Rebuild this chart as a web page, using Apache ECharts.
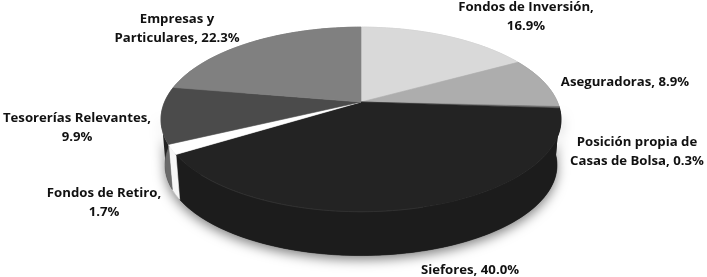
<!DOCTYPE html>
<html><head><meta charset="utf-8">
<style>html,body{margin:0;padding:0;background:#fff}#c{width:707px;height:277px}</style>
<script src="https://cdn.jsdelivr.net/npm/echarts@6/dist/echarts.min.js"></script>
</head><body><div id="c"></div>
<script>
const categories = ["Fondos de Inversión","Aseguradoras","Posición propia de Casas de Bolsa","Siefores","Fondos de Retiro","Tesorerías Relevantes","Empresas y Particulares"];
const shares = [16.9, 8.9, 0.3, 40.0, 1.7, 9.9, 22.3];
const labelTexts = ["Fondos de Inversión,\n16.9%","Aseguradoras, 8.9%","Posición propia de\nCasas de Bolsa, 0.3%","Siefores, 40.0%","Fondos de Retiro,\n1.7%","Tesorerías Relevantes,\n9.9%","Empresas y\nParticulares, 22.3%"];
const topColors = ["#d9d9d9","#adadad","#6e6e6e","#232323","#ffffff","#4b4b4b","#808080"];
const wallColors = ["#c4c4c4","#8f8f8f","#222222","#1c1c1c","#f6f6f6","#6a6a6a","#707070"];
const labelCentres = [[526,16.5],[625,82],[637,152],[470,270],[104,202.5],[77,127.5],[177,28.5]];

// perspective of the pie disc
const cx=361, cy=102, Rx=196.4, Ry=89, persp=0.189, drop=46, shrink=0.98;
function rim(deg, bottom){
  const t=deg*Math.PI/180, w=1+persp*Math.cos(t), s=bottom?shrink:1, d=bottom?drop:0;
  return [cx+s*Rx*Math.sin(t)/w, cy+d-s*Ry*Math.cos(t)/w];
}
function arc(a,b,bottom){
  const n=Math.max(2,Math.ceil(Math.abs(b-a)/1.5)), p=[];
  for(let i=0;i<=n;i++) p.push(rim(a+(b-a)*i/n,bottom));
  return p;
}
const total=shares.reduce((s,v)=>s+v,0);
const startAngle=[]; shares.reduce((s,v,i)=>{startAngle[i]=s/total*360;return s+v;},0);

function renderSlice(params){
  const i=params.dataIndex, a=startAngle[i], b=a+shares[i]/total*360;
  const kids=[
    {type:'polygon',z2:2,shape:{points:arc(a,b,false).concat(arc(b,a,true))},
     style:{fill:wallColors[i],stroke:wallColors[i],lineWidth:.6}},
    {type:'polygon',z2:10,shape:{points:[[cx,cy]].concat(arc(a,b,false))},
     style:{fill:topColors[i],stroke:topColors[i],lineWidth:.6}},
    {type:'text',z2:30,x:labelCentres[i][0],y:labelCentres[i][1],
     style:{text:labelTexts[i],fill:'#111',fontFamily:'Open Sans',fontWeight:'bold',fontSize:13.2,lineHeight:19,align:'center',verticalAlign:'middle'}}
  ];
  if(categories[i]==="Siefores"){
    kids.push({type:'polyline',z2:12,shape:{points:arc(165,225,false)},
      style:{fill:'none',stroke:'#303030',lineWidth:1}});
  }
  return {type:'group',children:kids};
}
function renderShadow(){
  return {type:'polygon',shape:{points:arc(95,262,true).concat(arc(262,95,false))},
    style:{fill:'#222',shadowColor:'rgba(0,0,0,0.5)',shadowBlur:12,shadowOffsetY:4}};
}
const chart=echarts.init(document.getElementById('c'),null,{renderer:'canvas'});
chart.setOption({
  animation:false,
  backgroundColor:'#fff',
  series:[
    {type:'custom',coordinateSystem:'none',z:1,silent:true,data:[0],renderItem:renderShadow},
    {type:'custom',coordinateSystem:'none',z:2,silent:true,data:shares,renderItem:renderSlice}
  ]
});
</script></body></html>
